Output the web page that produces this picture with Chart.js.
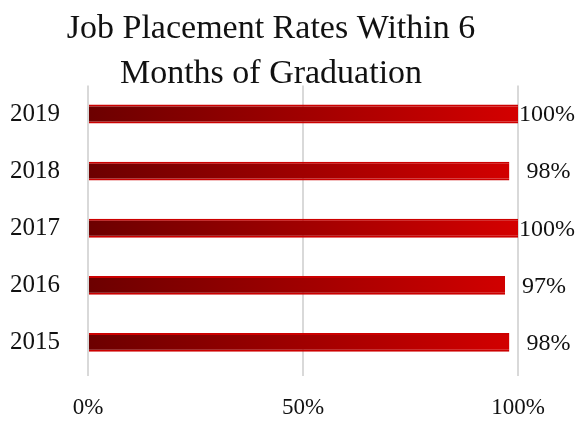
<!DOCTYPE html>
<html>
<head>
<meta charset="utf-8">
<script src="https://cdn.jsdelivr.net/npm/chart.js@4"></script>
<style>
  html, body { margin: 0; padding: 0; background: #fff; }
  #wrap { width: 579px; height: 421px; }
</style>
</head>
<body>
<div id="wrap"><canvas id="chart"></canvas></div>
<script>
// job placement rates, horizontal bars with gradient fill

const years = ["2015", "2016", "2017", "2018", "2019"];
const rates = [98, 97, 100, 98, 100];
const xTicks = [0, 50, 100];
const titleLines = ["Job Placement Rates Within 6", "Months of Graduation"];

const serif = "'Liberation Serif', 'DejaVu Serif', serif";
const textColor = "#111";

function barGradient(context) {
  const chart = context.chart;
  const area = chart.chartArea;
  if (!area) return "#a00000";
  const g = chart.ctx.createLinearGradient(area.left, 0, area.right, 0);
  g.addColorStop(0, "#6c0000");
  g.addColorStop(1, "#d40000");
  return g;
}

const valueLabels = {
  id: "valueLabels",
  afterDatasetsDraw(chart) {
    const ctx = chart.ctx;
    const meta = chart.getDatasetMeta(0);
    ctx.save();
    ctx.font = "24px " + serif;
    ctx.fillStyle = textColor;
    ctx.textBaseline = "middle";
    ctx.textAlign = "left";
    meta.data.forEach((bar, i) => {
      const txt = rates[i] + "%";
      const w = ctx.measureText(txt).width;
      let x = bar.x + 17;
      if (x + w > chart.width - 4) x = chart.width - 4 - w;
      ctx.fillText(txt, x, bar.y + 1);
    });
    ctx.restore();
  }
};

new Chart(document.getElementById("chart"), {
  type: "bar",
  data: {
    labels: years,
    datasets: [{
      data: rates,
      backgroundColor: barGradient,
      borderColor: "#cc0000",
      borderWidth: { top: 2, bottom: 2, left: 0, right: 0 },
      borderSkipped: false,
      barPercentage: 0.66,
      categoryPercentage: 0.5
    }]
  },
  options: {
    indexAxis: "y",
    responsive: true,
    maintainAspectRatio: false,
    animation: false,
    layout: { padding: { left: 0, right: 37, top: 6, bottom: 0 } },
    plugins: {
      legend: { display: false },
      tooltip: { enabled: false },
      title: {
        display: true,
        text: titleLines,
        color: textColor,
        font: { family: serif, size: 34, weight: "normal", lineHeight: 1.33 },
        padding: { top: 0, bottom: -11 }
      }
    },
    scales: {
      x: {
        min: 0,
        max: 100,
        afterBuildTicks(axis) { axis.ticks = xTicks.map(v => ({ value: v })); },
        afterFit(axis) { axis.height = 50; },
        border: { display: false },
        grid: { color: "#d9d9d9", lineWidth: 2, tickLength: 5 },
        ticks: {
          color: textColor,
          padding: 18,
          maxRotation: 0,
          font: { family: serif, size: 23 },
          callback: v => v + "%"
        }
      },
      y: {
        reverse: true,
        afterFit(axis) { axis.width = 88; },
        border: { display: false },
        grid: { display: false, drawTicks: false },
        ticks: {
          color: textColor,
          padding: 28,
          font: { family: serif, size: 25 }
        }
      },
      // empty right-hand box that keeps room for the value labels
      yRight: {
        type: "category",
        position: "right",
        afterFit(axis) { axis.width = 24; },
        border: { display: false },
        grid: { display: false, drawTicks: false },
        ticks: { display: false }
      }
    }
  },
  plugins: [valueLabels]
});
</script>
</body>
</html>
